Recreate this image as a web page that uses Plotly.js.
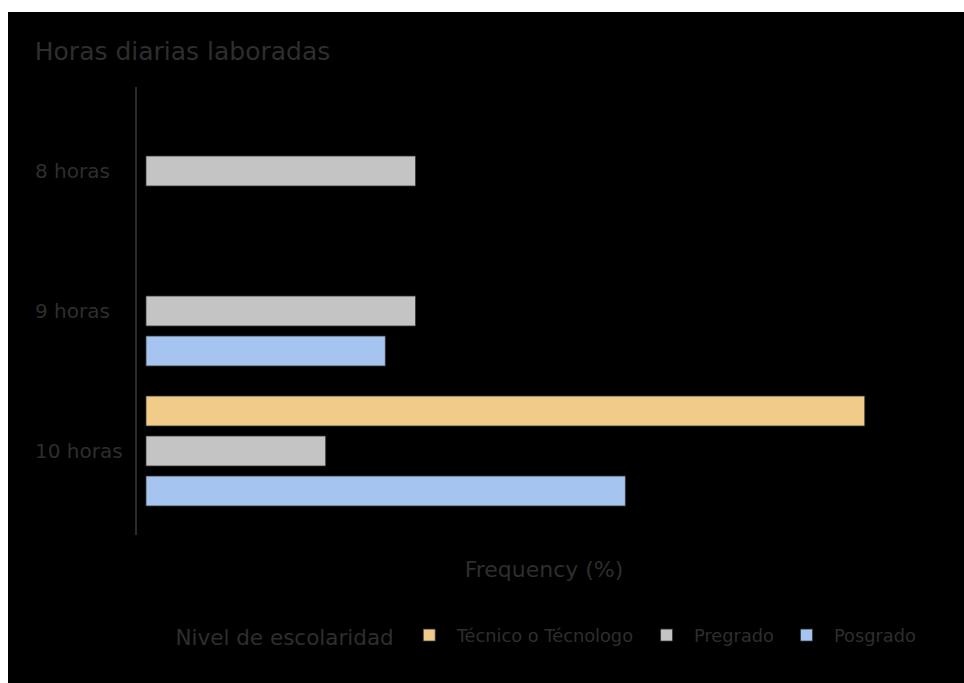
<!DOCTYPE html>
<html>
<head>
<meta charset="utf-8">
<script src="https://cdn.plot.ly/plotly-3.0.1.min.js"></script>
<style>
  html, body { margin: 0; padding: 0; background: #ffffff; }
  #chart { position: absolute; left: 8px; top: 12px; width: 956px; height: 671px; }
</style>
</head>
<body>
<div id="chart"></div>
<script>
const categories = ["8 horas", "9 horas", "10 horas"];
const seriesNames = ["Técnico o Técnologo", "Pregrado", "Posgrado"];
const tecnico = [null, null, 100];
const pregrado = [37.5, 37.5, 25];
const posgrado = [null, 33.3, 66.7];
const seriesValues = [tecnico, pregrado, posgrado];
const seriesColors = ["#F0CB8A", "#C4C4C4", "#A5C5F0"];

const textColor = "#2e2e2e";
const fontFam = "'DejaVu Sans', Verdana, sans-serif";

const traces = seriesNames.map((name, i) => ({
  type: "bar",
  orientation: "h",
  name: name,
  y: categories,
  x: seriesValues[i],
  marker: { color: seriesColors[i], line: { color: "#333333", width: 0.8 } },
  hoverinfo: "x+name"
}));

const tickAnnotations = categories.map(c => ({
  text: c,
  xref: "paper", yref: "y",
  x: -0.128, y: c,
  xanchor: "left", yanchor: "middle",
  showarrow: false,
  font: { size: 20, color: textColor }
}));

const layout = {
  width: 956,
  height: 671,
  paper_bgcolor: "#000000",
  plot_bgcolor: "#000000",
  font: { family: fontFam, color: textColor },
  margin: { l: 129, r: 13, t: 75, b: 148 },
  title: {
    text: "Horas diarias laboradas",
    x: 0.028, xref: "container", xanchor: "left",
    y: 0.942, yref: "container", yanchor: "middle",
    font: { size: 25, color: textColor }
  },
  barmode: "group",
  bargap: 0.143,
  bargroupgap: 0.25,
  xaxis: {
    range: [-1.25, 112],
    showgrid: false,
    zeroline: false,
    showticklabels: false,
    ticks: "",
    showline: false,
    title: { text: "Frequency (%)", font: { size: 22, color: textColor }, standoff: 26 }
  },
  yaxis: {
    type: "category",
    range: [2.6, -0.6],
    showgrid: false,
    zeroline: false,
    showline: true,
    linecolor: "#2a2a2a",
    linewidth: 2,
    ticks: "",
    showticklabels: false
  },
  annotations: tickAnnotations,
  showlegend: true,
  legend: {
    orientation: "h",
    xref: "container",
    x: 0.173, xanchor: "left",
    yref: "container",
    y: 0.07, yanchor: "middle",
    font: { size: 17.8, color: textColor },
    title: { text: "Nivel de escolaridad", side: "left", font: { size: 21.5, color: textColor } },
    itemwidth: 45,
    bgcolor: "rgba(0,0,0,0)"
  }
};

Plotly.newPlot("chart", traces, layout, { displayModeBar: false, responsive: false });
</script>
</body>
</html>
